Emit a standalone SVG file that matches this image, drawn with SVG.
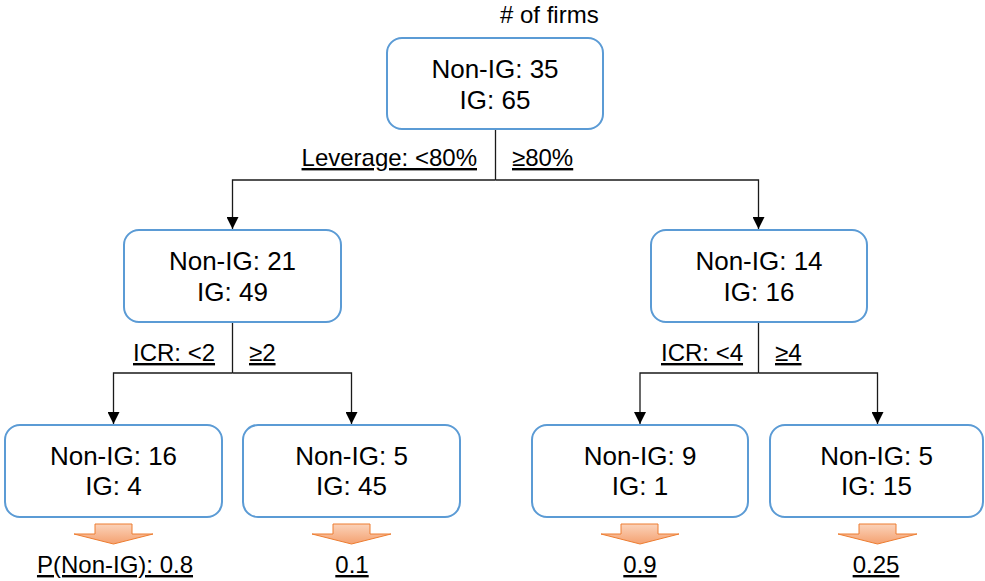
<svg xmlns="http://www.w3.org/2000/svg" width="985" height="581" viewBox="0 0 985 581">
<defs>
<style>
.node rect{fill:#fff;stroke:#5b9bd5;stroke-width:2}
.node text{font-family:"Liberation Sans",Arial,sans-serif;font-size:26px;fill:#000;text-anchor:middle}
.lbl{font-family:"Liberation Sans",Arial,sans-serif;font-size:24px;fill:#000;text-decoration:underline}
.plain{font-family:"Liberation Sans",Arial,sans-serif;font-size:24px;fill:#000}
.conn path{fill:none;stroke:#1a1a1a;stroke-width:1.3}
.blk{fill:url(#og);stroke:#ed7d31;stroke-width:1}
</style>
<marker id="ah" viewBox="0 0 12 12" refX="12" refY="6" markerWidth="12" markerHeight="12" markerUnits="userSpaceOnUse" orient="auto">
<path d="M0,0 L12,6 L0,12 Z" fill="#000"/>
</marker>
<linearGradient id="og" x1="0" y1="0" x2="0" y2="1">
<stop offset="0" stop-color="#fbd3ba"/>
<stop offset="1" stop-color="#f4a170"/>
</linearGradient>
</defs>
<rect width="985" height="581" fill="#fff"/>
<text class="plain" x="500" y="23"># of firms</text>

<g id="connectors" class="conn">
<path d="M495.5,129 V180"/>
<path d="M495.5,180 H232.5 V229" marker-end="url(#ah)"/>
<path d="M495.5,180 H758.5 V229" marker-end="url(#ah)"/>
<path d="M232.5,322 V373"/>
<path d="M232.5,373 H113.5 V424" marker-end="url(#ah)"/>
<path d="M232.5,373 H351.5 V424" marker-end="url(#ah)"/>
<path d="M758.5,322 V373"/>
<path d="M758.5,373 H640 V424" marker-end="url(#ah)"/>
<path d="M758.5,373 H877.5 V424" marker-end="url(#ah)"/>
</g>

<g id="edge-labels">
<text class="lbl" x="477" y="166" text-anchor="end">Leverage: &lt;80%</text>
<text class="lbl" x="512" y="166">≥80%</text>
<text class="lbl" x="133" y="361">ICR: &lt;2</text>
<text class="lbl" x="249" y="361">≥2</text>
<text class="lbl" x="661" y="361">ICR: &lt;4</text>
<text class="lbl" x="775" y="361">≥4</text>
</g>

<g id="n-root" class="node">
<rect x="387" y="38" width="216" height="91" rx="15"/>
<text x="495" y="78">Non-IG: 35</text>
<text x="495" y="109">IG: 65</text>
</g>
<g id="n-left" class="node">
<rect x="124" y="230" width="217" height="92" rx="15"/>
<text x="232.5" y="270">Non-IG: 21</text>
<text x="232.5" y="301">IG: 49</text>
</g>
<g id="n-right" class="node">
<rect x="651" y="230" width="216" height="92" rx="15"/>
<text x="759" y="270">Non-IG: 14</text>
<text x="759" y="301">IG: 16</text>
</g>
<g id="n-ll" class="node">
<rect x="5" y="425" width="217" height="92" rx="15"/>
<text x="113.5" y="465">Non-IG: 16</text>
<text x="113.5" y="495">IG: 4</text>
</g>
<g id="n-lr" class="node">
<rect x="243" y="425" width="217" height="92" rx="15"/>
<text x="351.5" y="465">Non-IG: 5</text>
<text x="351.5" y="495">IG: 45</text>
</g>
<g id="n-rl" class="node">
<rect x="532" y="425" width="216" height="92" rx="15"/>
<text x="640" y="465">Non-IG: 9</text>
<text x="640" y="495">IG: 1</text>
</g>
<g id="n-rr" class="node">
<rect x="770" y="425" width="213" height="92" rx="15"/>
<text x="876.5" y="465">Non-IG: 5</text>
<text x="876.5" y="495">IG: 15</text>
</g>

<g id="results">
<path class="blk" d="M95,524 H132 V534 H153 L113.5,544 L74,534 H95 Z"/>
<path class="blk" d="M333,524 H370 V534 H391 L351.5,544 L312,534 H333 Z"/>
<path class="blk" d="M621,524 H658 V534 H679 L640,544 L601,534 H621 Z"/>
<path class="blk" d="M859,524 H896 V534 H917 L877.5,544 L838,534 H859 Z"/>
<text class="lbl" x="115" y="573" text-anchor="middle">P(Non-IG): 0.8</text>
<text class="lbl" x="352" y="573" text-anchor="middle">0.1</text>
<text class="lbl" x="640" y="573" text-anchor="middle">0.9</text>
<text class="lbl" x="876" y="573" text-anchor="middle">0.25</text>
</g>
</svg>
